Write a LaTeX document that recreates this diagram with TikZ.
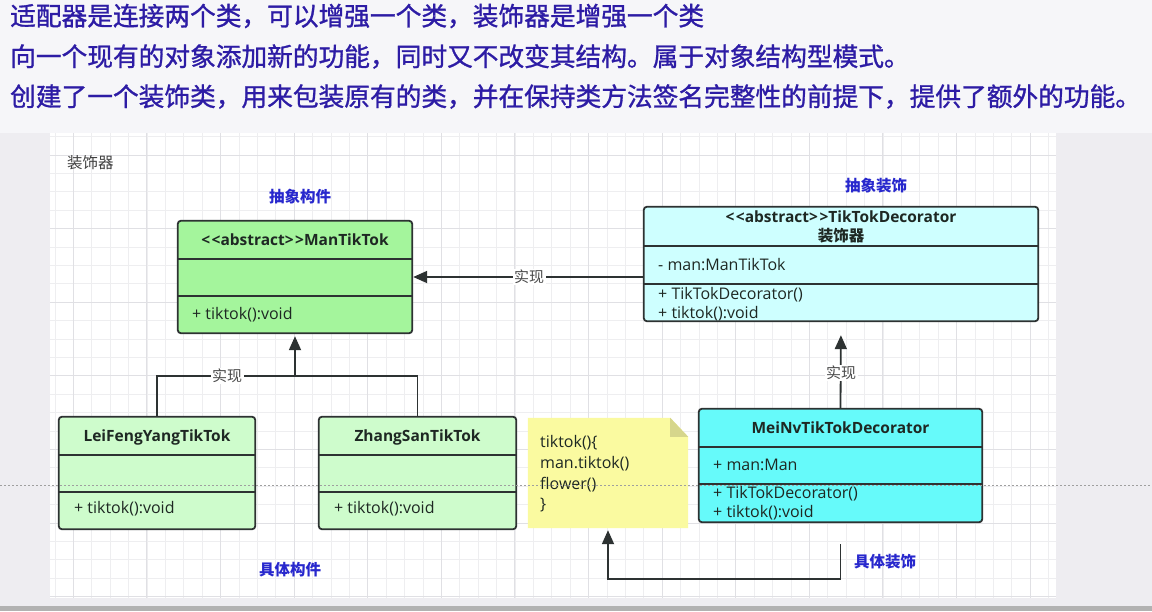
\documentclass[tikz,border=0pt]{standalone}
\usepackage{fontspec}
\setmainfont{Open Sans}
\newfontfamily\cjk{Noto Sans CJK SC}
\newfontfamily\cjktop[FakeBold=1.1]{Noto Sans CJK SC}
\usetikzlibrary{arrows.meta,calc}
\definecolor{bgcol}{RGB}{246,246,249}
\definecolor{sidecol}{RGB}{238,237,241}
\definecolor{titleblue}{RGB}{45,28,165}
\definecolor{lblblue}{RGB}{40,40,205}
\definecolor{txt}{RGB}{30,40,35}
\definecolor{boxline}{RGB}{45,50,50}
\definecolor{greenA}{RGB}{164,245,156}
\definecolor{greenB}{RGB}{206,252,204}
\definecolor{cyanA}{RGB}{206,255,255}
\definecolor{cyanB}{RGB}{102,250,250}
\definecolor{notefill}{RGB}{250,250,160}
\definecolor{foldfill}{RGB}{214,214,140}
\definecolor{gridminor}{RGB}{238,238,240}
\definecolor{gridmajor}{RGB}{224,224,228}
\tikzset{
  box/.style={rectangle, inner sep=0pt, draw=none},
  outline/.style={draw=boxline, line width=1.8pt, rounded corners=3pt},
  sepline/.style={draw=boxline, line width=1.8pt},
  hdr/.style={font=\bfseries\fontsize{15.5}{18}\selectfont, text=txt, inner sep=0pt},
  mem/.style={font=\fontsize{16}{18}\selectfont, text=txt, anchor=west, inner sep=0pt},
  lbl/.style={font=\cjk\fontsize{15}{17}\selectfont, text=black!70, fill=white, inner sep=1.5pt},
  role/.style={font=\cjk\bfseries\fontsize{15.5}{17}\selectfont, text=lblblue, inner sep=0pt},
  toptext/.style={font=\cjktop\fontsize{25.7}{30}\selectfont, text=titleblue, anchor=west, inner sep=0pt},
  conn/.style={draw=boxline, line width=1.8pt},
  arr/.style={conn, -{Triangle[length=14pt,width=12pt]}},
}
\newcommand{\ltlt}{{<}\kern1.5pt{<}}
\newcommand{\gtgt}{{>}\kern1.5pt{>}}
\begin{document}
\begin{tikzpicture}[x=1pt,y=-1pt]
\useasboundingbox (0,0) rectangle (1152,611);
% backgrounds
\fill[bgcol] (0,0) rectangle (1152,611);
\fill[sidecol] (0,133) rectangle (1152,606);
\fill[white] (50,133) rectangle (1056,598);
\foreach \i in {0,...,54} \draw[gridminor, line width=0.8pt] ({54.9+\i*18.4},133) -- ({54.9+\i*18.4},598);
\foreach \j in {0,...,25} \draw[gridminor, line width=0.8pt] (50,{136.6+\j*18.4}) -- (1056,{136.6+\j*18.4});
\foreach \i in {1,5,...,53} \draw[gridmajor, line width=0.9pt] ({54.9+\i*18.4},133) -- ({54.9+\i*18.4},598);
\foreach \j in {1,5,...,25} \draw[gridmajor, line width=0.9pt] (50,{136.6+\j*18.4}) -- (1056,{136.6+\j*18.4});
\fill[gray!60] (0,606) rectangle (1152,611);

% top text
\node[toptext] (t1) at (10,16) {适配器是连接两个类，可以增强一个类，装饰器是增强一个类};
\node[toptext] (t2) at (10,56.5) {向一个现有的对象添加新的功能，同时又不改变其结构。属于对象结构型模式。};
\node[toptext] (t3) at (10,96.5) {创建了一个装饰类，用来包装原有的类，并在保持类方法签名完整性的前提下，提供了额外的功能。};

% labels
\node[font=\cjk\fontsize{15.5}{17}\selectfont, text=black!75, anchor=west, inner sep=0pt] (title) at (67,163) {装饰器};
\node[role] (r1) at (300,197) {抽象构件};
\node[role] (r2) at (876,186) {抽象装饰};
\node[role] (r3) at (290,570) {具体构件};
\node[role] (r4) at (885,562) {具体装饰};

% boxes (fills)
\node[box, fill=greenA, rounded corners=3pt, minimum width=234pt, minimum height=112pt] (man) at (295,277) {};
\node[box, fill=cyanA, rounded corners=3pt, minimum width=394pt, minimum height=114pt] (deco) at (841,264) {};
\node[box, fill=greenB, rounded corners=3pt, minimum width=196pt, minimum height=112pt] (lei) at (157,473) {};
\node[box, fill=greenB, rounded corners=3pt, minimum width=197pt, minimum height=112pt] (zhang) at (417.5,473) {};
\node[box, fill=cyanB, rounded corners=3pt, minimum width=283pt, minimum height=113pt] (mei) at (840.5,465.5) {};
\node[box, minimum width=160pt, minimum height=110pt] (note) at (608,473) {};

% note shape
\fill[notefill] (note.north west) -- ($(note.north east)+(-18,0)$) -- ($(note.north east)+(0,19)$) -- (note.south east) -- (note.south west) -- cycle;
\fill[foldfill] ($(note.north east)+(-18,0)$) -- ($(note.north east)+(0,19)$) -- ($(note.north east)+(-18,19)$) -- cycle;

% texts
\node[hdr] (manT) at (295,240) {\ltlt abstract\gtgt ManTikTok};
\node[mem] (manM) at (192,315) {+ tiktok():void};

\node[hdr] (decoT) at (841,217) {\ltlt abstract\gtgt TikTokDecorator};
\node[hdr, font=\cjk\bfseries\fontsize{15.5}{17}\selectfont] (decoT2) at (841,236) {装饰器};
\node[mem] (decoA) at (658,265) {- man:ManTikTok};
\node[mem] (decoM1) at (658,295) {+ TikTokDecorator()};
\node[mem] (decoM2) at (658,314) {+ tiktok():void};

\node[hdr] (leiT) at (157,437) {LeiFengYangTikTok};
\node[mem] (leiM) at (74,509) {+ tiktok():void};

\node[hdr] (zhangT) at (417.5,437) {ZhangSanTikTok};
\node[mem] (zhangM) at (334,509) {+ tiktok():void};

\node[hdr] (meiT) at (840.5,428) {MeiNvTikTokDecorator};
\node[mem] (meiA) at (713,465) {+ man:Man};
\node[mem] (meiM1) at (713,494) {+ TikTokDecorator()};
\node[mem] (meiM2) at (713,513) {+ tiktok():void};

\node[mem] (n1) at (540,443) {tiktok()\{};
\node[mem] (n2) at (540,464) {man.tiktok()};
\node[mem] (n3) at (540,485) {flower()};
\node[mem] (n4) at (540,505) {\}};

% outlines and separators
\foreach \b/\a/\c in {man/38/75, deco/39/77, lei/38/75, zhang/38/75, mei/38/75}{
  \draw[sepline] ($(\b.north west)+(0,\a)$) -- ($(\b.north east)+(0,\a)$);
  \draw[sepline] ($(\b.north west)+(0,\c)$) -- ($(\b.north east)+(0,\c)$);
  \draw[outline] (\b.south west) rectangle (\b.north east);
}

% connectors
\coordinate (join) at (295,376);
\draw[conn] (lei.north) |- (join) -| (zhang.north);
\draw[arr, shorten >=3pt] (join) -- (man.south);
\node[lbl] (l1) at (227,376) {实现};

\draw[arr, shorten >=1pt] (deco.west |- man.east) -- (man.east);
\node[lbl] (l2) at (529,277) {实现};

\draw[arr, shorten >=14pt] (mei.north) -- (deco.south);
\node[lbl] (l3) at (841,373) {实现};

\draw[arr, shorten <=22pt, shorten >=2pt] (mei.south) -- ++(0,57) -| (note.south);

% dotted line
\draw[gray!75, line width=0.8pt, dash pattern=on 2pt off 2pt] (0,485) -- (1152,485);
\end{tikzpicture}
\end{document}
